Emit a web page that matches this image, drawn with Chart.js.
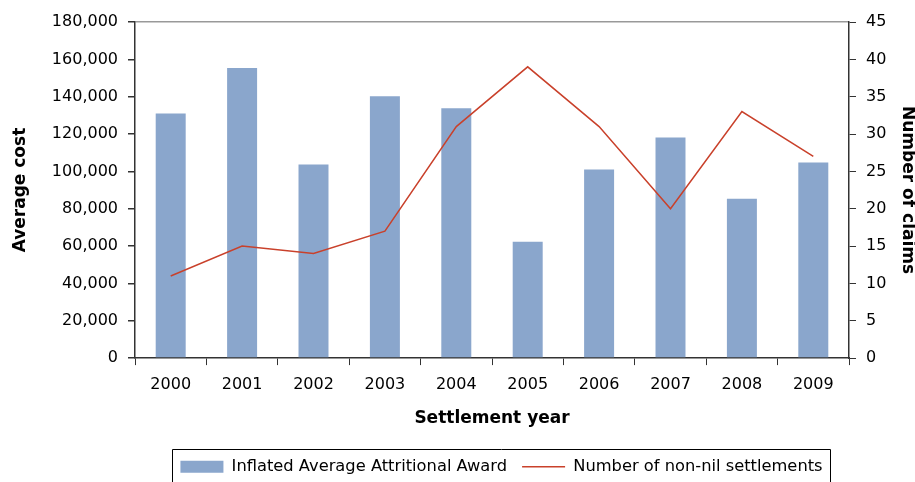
<!DOCTYPE html>
<html>
<head>
<meta charset="utf-8">
<script src="https://cdn.jsdelivr.net/npm/chart.js"></script>
<style>
  html, body { margin: 0; padding: 0; background: #fff; }
  #wrap { width: 915px; height: 482px; }
</style>
</head>
<body>
<div id="wrap"><canvas id="chart" width="915" height="482"></canvas></div>
<script>
const years = ['2000', '2001', '2002', '2003', '2004', '2005', '2006', '2007', '2008', '2009'];
const avgAward = [131000, 155300, 103700, 140200, 133800, 62300, 101000, 118200, 85400, 104800];
const settlements = [11, 15, 14, 17, 31, 39, 31, 20, 33, 27];
const costTicks = [0, 20000, 40000, 60000, 80000, 100000, 120000, 140000, 160000, 180000];
const claimTicks = [0, 5, 10, 15, 20, 25, 30, 35, 40, 45];

const barColor = '#8aa6cc';
const lineColor = '#c9412b';
const axisColor = '#333333';

Chart.defaults.font.family = "'DejaVu Sans', sans-serif";
Chart.defaults.color = '#000';

// legend sits right of centre in the original, and a bit lower
const legendShift = {
  id: 'legendShift',
  afterLayout(chart) {
    const lg = chart.legend;
    if (!lg) return;
    lg.left += 44;
    lg.right += 44;
    lg.top += 3;
    lg.bottom += 3;
  }
};

// border round the legend, Excel style (bottom edge runs off the picture)
const legendFrame = {
  id: 'legendFrame',
  afterDraw(chart) {
    const hb = chart.legend && chart.legend.legendHitBoxes;
    if (!hb || !hb.length) return;
    const last = hb[hb.length - 1];
    const ctx = chart.ctx;
    ctx.save();
    ctx.strokeStyle = '#000';
    ctx.lineWidth = 1;
    const l = Math.round(hb[0].left - 8) + 0.5;
    const r = Math.round(last.left + last.width + 7) + 0.5;
    const t = Math.round(hb[0].top - 10) + 0.5;
    ctx.beginPath();
    ctx.moveTo(l, chart.height + 2);
    ctx.lineTo(l, t);
    ctx.lineTo(r, t);
    ctx.lineTo(r, chart.height + 2);
    ctx.stroke();
    ctx.restore();
  }
};

new Chart(document.getElementById('chart'), {
  type: 'bar',
  data: {
    labels: years,
    datasets: [
      {
        label: 'Inflated Average Attritional Award',
        data: avgAward,
        backgroundColor: barColor,
        yAxisID: 'y',
        barPercentage: 0.42,
        categoryPercentage: 1,
        order: 1,
      },
      {
        type: 'line',
        label: 'Number of non-nil settlements',
        data: settlements,
        borderColor: lineColor,
        borderWidth: 1.5,
        pointRadius: 0,
        tension: 0,
        yAxisID: 'y1',
        order: 0,
      },
    ],
  },
  options: {
    responsive: false,
    animation: false,
    layout: { padding: { top: 22, left: 0, right: 0, bottom: 0 } },
    plugins: {
      tooltip: { enabled: false },
      legend: {
        position: 'bottom',
        labels: {
          usePointStyle: true,
          pointStyleWidth: 43,
          boxHeight: 12,
          padding: 15,
          font: { size: 16.3 },
          sort: (a, b) => a.datasetIndex - b.datasetIndex,
          generateLabels(chart) {
            const items = Chart.defaults.plugins.legend.labels.generateLabels(chart);
            items.forEach((it) => {
              if (it.datasetIndex === 0) {
                it.pointStyle = 'rect';
                it.fillStyle = barColor;
                it.strokeStyle = barColor;
                it.lineWidth = 0;
              } else {
                it.pointStyle = 'line';
                it.strokeStyle = lineColor;
                it.lineWidth = 1.5;
              }
            });
            return items;
          },
        },
      },
    },
    scales: {
      x: {
        offset: true,
        grid: { offset: true, drawOnChartArea: false, tickLength: 7, tickColor: axisColor },
        border: { color: axisColor, width: 1.5 },
        ticks: { font: { size: 16 }, padding: 10, maxRotation: 0 },
        title: { display: true, text: 'Settlement year', font: { size: 17, weight: 'bold' }, padding: { top: 4, bottom: 12 } },
      },
      y: {
        position: 'left',
        min: 0,
        max: 180000,
        afterBuildTicks: (s) => { s.ticks = costTicks.map((v) => ({ value: v })); },
        afterFit: (s) => { s.width = 135; },
        grid: {
          drawOnChartArea: true,
          tickLength: 7,
          tickColor: axisColor,
          color: (c) => (c.tick && c.tick.value === 180000 ? '#999999' : 'rgba(0,0,0,0)'),
          lineWidth: 1.5,
        },
        border: { color: axisColor, width: 1.5 },
        ticks: { font: { size: 16 }, padding: 10, callback: (v) => v.toLocaleString('en-US') },
        title: { display: true, text: 'Average cost', font: { size: 17, weight: 'bold' }, padding: { top: 10, bottom: 0 } },
      },
      y1: {
        position: 'right',
        min: 0,
        max: 45,
        afterBuildTicks: (s) => { s.ticks = claimTicks.map((v) => ({ value: v })); },
        afterFit: (s) => { s.width = 66; },
        grid: { drawOnChartArea: false, tickLength: 7, tickColor: axisColor },
        border: { color: axisColor, width: 1.5 },
        ticks: { font: { size: 16 }, padding: 10 },
        title: { display: true, text: 'Number of claims', font: { size: 17, weight: 'bold' }, padding: { top: -3, bottom: 0 } },
      },
    },
  },
  plugins: [legendShift, legendFrame],
});
</script>
</body>
</html>
